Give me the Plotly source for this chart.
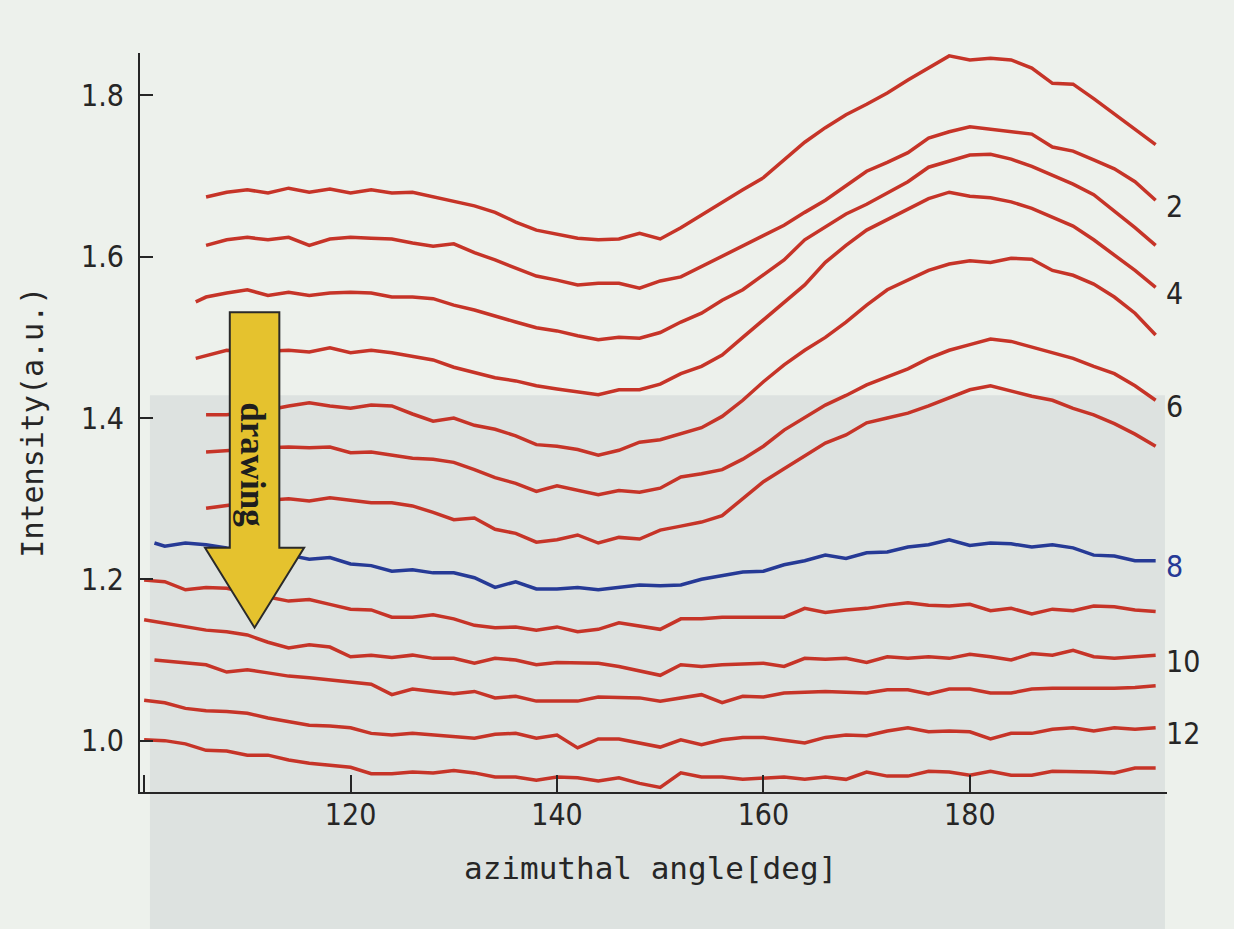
import plotly.graph_objects as go

# ---------------- data ----------------
angles = list(range(100, 199, 2))          # azimuthal angle grid [deg]
curve_start = [106, 106, 105, 105, 106, 106, 106, 101, 100, 100, 101, 100, 100]

c1 = [1.674, 1.680, 1.683, 1.679, 1.685, 1.680, 1.684, 1.679, 1.683, 1.679,
      1.680, 1.674, 1.668, 1.663, 1.655, 1.643, 1.633, 1.628, 1.623, 1.621,
      1.622, 1.629, 1.622, 1.636, 1.652, 1.667, 1.683, 1.698, 1.720, 1.742,
      1.760, 1.776, 1.789, 1.803, 1.819, 1.834, 1.849, 1.844, 1.846, 1.844,
      1.834, 1.815, 1.814, 1.796, 1.777, 1.758, 1.739]
c2 = [1.614, 1.621, 1.624, 1.621, 1.624, 1.614, 1.622, 1.624, 1.623, 1.622,
      1.617, 1.613, 1.616, 1.605, 1.596, 1.586, 1.576, 1.571, 1.565, 1.567,
      1.567, 1.561, 1.570, 1.575, 1.588, 1.601, 1.613, 1.626, 1.639, 1.655,
      1.670, 1.688, 1.706, 1.717, 1.729, 1.747, 1.755, 1.761, 1.758, 1.756,
      1.752, 1.736, 1.731, 1.720, 1.709, 1.693, 1.670]
c3 = [1.544, 1.550, 1.555, 1.559, 1.552, 1.556, 1.552, 1.555, 1.556, 1.555,
      1.550, 1.550, 1.548, 1.540, 1.534, 1.526, 1.519, 1.512, 1.508, 1.502,
      1.497, 1.500, 1.499, 1.506, 1.519, 1.530, 1.546, 1.559, 1.577, 1.596,
      1.621, 1.637, 1.653, 1.665, 1.679, 1.693, 1.711, 1.719, 1.726, 1.727,
      1.721, 1.712, 1.701, 1.690, 1.677, 1.657, 1.636, 1.614]
c4 = [1.474, 1.477, 1.484, 1.482, 1.483, 1.484, 1.482, 1.487, 1.481, 1.484,
      1.481, 1.477, 1.472, 1.463, 1.456, 1.450, 1.446, 1.440, 1.436, 1.432,
      1.429, 1.435, 1.435, 1.442, 1.455, 1.464, 1.478, 1.500, 1.522, 1.543,
      1.565, 1.593, 1.614, 1.633, 1.646, 1.660, 1.672, 1.680, 1.675, 1.673,
      1.668, 1.660, 1.649, 1.638, 1.621, 1.602, 1.583, 1.562]
c5 = [1.404, 1.404, 1.407, 1.410, 1.415, 1.419, 1.415, 1.412, 1.416, 1.415,
      1.405, 1.396, 1.400, 1.391, 1.386, 1.378, 1.367, 1.365, 1.361, 1.354,
      1.360, 1.370, 1.373, 1.380, 1.388, 1.402, 1.422, 1.445, 1.466, 1.484,
      1.500, 1.519, 1.540, 1.559, 1.571, 1.583, 1.591, 1.595, 1.593, 1.598,
      1.597, 1.583, 1.577, 1.566, 1.550, 1.530, 1.503]
c6 = [1.358, 1.360, 1.362, 1.363, 1.364, 1.363, 1.364, 1.357, 1.358, 1.354,
      1.350, 1.349, 1.345, 1.336, 1.326, 1.319, 1.309, 1.316, 1.311, 1.305,
      1.310, 1.308, 1.313, 1.327, 1.331, 1.336, 1.349, 1.365, 1.385, 1.401,
      1.416, 1.428, 1.441, 1.451, 1.461, 1.474, 1.484, 1.491, 1.498, 1.495,
      1.488, 1.482, 1.474, 1.464, 1.455, 1.440, 1.422]
c7 = [1.288, 1.292, 1.295, 1.298, 1.300, 1.297, 1.301, 1.298, 1.295, 1.295,
      1.291, 1.283, 1.274, 1.276, 1.262, 1.257, 1.246, 1.249, 1.255, 1.245,
      1.252, 1.250, 1.261, 1.266, 1.271, 1.279, 1.300, 1.321, 1.337, 1.353,
      1.369, 1.379, 1.394, 1.400, 1.406, 1.415, 1.425, 1.435, 1.440, 1.433,
      1.427, 1.422, 1.412, 1.404, 1.393, 1.380, 1.365]
c8 = [1.245,
      1.241, 1.245, 1.243, 1.239, 1.236, 1.234, 1.230, 1.225, 1.227, 1.219,
      1.217, 1.210, 1.212, 1.208, 1.208, 1.202, 1.190, 1.197, 1.188, 1.188,
      1.190, 1.187, 1.190, 1.193, 1.192, 1.193, 1.200, 1.205, 1.209, 1.210,
      1.218, 1.223, 1.230, 1.226, 1.233, 1.234, 1.240, 1.243, 1.249, 1.242,
      1.245, 1.244, 1.240, 1.243, 1.239, 1.230, 1.229, 1.223, 1.223]
c9 = [1.199, 1.197, 1.187, 1.190, 1.189, 1.183, 1.178, 1.173, 1.175, 1.169,
      1.163, 1.162, 1.153, 1.153, 1.156, 1.151, 1.143, 1.140, 1.141, 1.137,
      1.141, 1.135, 1.138, 1.146, 1.142, 1.138, 1.151, 1.151, 1.153, 1.153,
      1.153, 1.153, 1.164, 1.159, 1.162, 1.164, 1.168, 1.171, 1.168, 1.167,
      1.169, 1.161, 1.164, 1.157, 1.163, 1.161, 1.167, 1.166, 1.162, 1.160]
c10 = [1.150, 1.146, 1.141, 1.137, 1.135, 1.131, 1.122, 1.115, 1.119, 1.116,
       1.104, 1.106, 1.103, 1.106, 1.102, 1.102, 1.096, 1.102, 1.100, 1.094,
       1.097, 1.096, 1.096, 1.092, 1.087, 1.081, 1.094, 1.092, 1.094, 1.095,
       1.096, 1.092, 1.102, 1.101, 1.102, 1.097, 1.104, 1.102, 1.104, 1.102,
       1.107, 1.104, 1.100, 1.108, 1.106, 1.112, 1.104, 1.102, 1.104, 1.106]
c11 = [1.100,
       1.099, 1.097, 1.094, 1.085, 1.088, 1.084, 1.080, 1.078, 1.075, 1.073,
       1.070, 1.057, 1.064, 1.061, 1.058, 1.061, 1.053, 1.055, 1.049, 1.049,
       1.049, 1.054, 1.054, 1.053, 1.049, 1.053, 1.057, 1.047, 1.055, 1.054,
       1.059, 1.060, 1.061, 1.060, 1.059, 1.063, 1.063, 1.058, 1.064, 1.064,
       1.059, 1.059, 1.064, 1.065, 1.065, 1.064, 1.065, 1.066, 1.068]
c12 = [1.050, 1.047, 1.040, 1.037, 1.036, 1.034, 1.028, 1.023, 1.019, 1.018,
       1.016, 1.009, 1.007, 1.009, 1.007, 1.004, 1.003, 1.008, 1.009, 1.003,
       1.007, 0.991, 1.002, 1.002, 0.997, 0.992, 1.001, 0.995, 1.001, 1.004,
       1.004, 1.001, 0.997, 1.004, 1.007, 1.006, 1.012, 1.016, 1.011, 1.012,
       1.011, 1.002, 1.009, 1.009, 1.014, 1.016, 1.012, 1.016, 1.014, 1.016]
c13 = [1.001, 1.000, 0.996, 0.988, 0.987, 0.982, 0.982, 0.976, 0.972, 0.969,
       0.967, 0.959, 0.959, 0.961, 0.960, 0.963, 0.960, 0.955, 0.955, 0.951,
       0.955, 0.954, 0.950, 0.954, 0.947, 0.942, 0.960, 0.955, 0.955, 0.952,
       0.954, 0.955, 0.952, 0.955, 0.952, 0.961, 0.956, 0.956, 0.962, 0.961,
       0.957, 0.962, 0.957, 0.957, 0.962, 0.962, 0.961, 0.960, 0.966, 0.966]

curves = [c1, c2, c3, c4, c5, c6, c7, c8, c9, c10, c11, c12, c13]
curve_labels = ["", "2", "", "4", "", "6", "", "8", "", "10", "", "12", ""]

x_tickvals = [100, 120, 140, 160, 180]
x_ticktext = ["", "120", "140", "160", "180"]
y_tickvals = [1.0, 1.2, 1.4, 1.6, 1.8]
y_ticktext = ["1.0", "1.2", "1.4", "1.6", "1.8"]

# ---------------- style ----------------
RED = "rgb(198,52,40)"
BLUE = "rgb(38,58,150)"
INK = "#262626"
PAPER = "#EDF1EC"
BOX = "#DDE2E0"
MONO = "DejaVu Sans Mono"
NARROW = "Liberation Sans Narrow, Arial Narrow, DejaVu Sans Condensed, DejaVu Sans Mono"

fig = go.Figure()
for i, vals in enumerate(curves):
    s = curve_start[i]
    xs = ([s] if s not in angles else []) + [a for a in angles if a >= s]
    assert len(xs) == len(vals), (i, len(xs), len(vals))
    color = BLUE if curve_labels[i] == "8" else RED
    fig.add_trace(go.Scatter(x=xs, y=vals, mode="lines",
                             line=dict(color=color, width=3.5),
                             showlegend=False, hoverinfo="skip"))
    if curve_labels[i]:
        fig.add_annotation(x=xs[-1], y=vals[-1], xref="x", yref="y",
                           text=curve_labels[i], showarrow=False,
                           xanchor="left", yanchor="middle", xshift=8, yshift=-6,
                           font=dict(family=NARROW, size=30, color=color if color == BLUE else INK))

# "drawing" arrow
arrow_cx = 110.7
shaft_half = 2.4
head_half = 4.8
arrow_top = 1.531
head_base = 1.239
arrow_tip = 1.140
path = (f"M {arrow_cx-shaft_half},{arrow_top} L {arrow_cx+shaft_half},{arrow_top} "
        f"L {arrow_cx+shaft_half},{head_base} L {arrow_cx+head_half},{head_base} "
        f"L {arrow_cx},{arrow_tip} L {arrow_cx-head_half},{head_base} "
        f"L {arrow_cx-shaft_half},{head_base} Z")
fig.add_shape(type="path", path=path, xref="x", yref="y",
              fillcolor="#E5C22E", line=dict(color="#2a2a2a", width=2), layer="above")
fig.add_annotation(x=arrow_cx - 0.2, y=1.342, xref="x", yref="y", text="<b>drawing</b>",
                   textangle=90, showarrow=False, xanchor="center", yanchor="middle",
                   font=dict(family="Liberation Serif, DejaVu Serif", size=35, color="#1e1e1e"))

# scanned-page grey panel behind the lower plot
fig.add_shape(type="rect", xref="paper", yref="paper", x0=0.0097, x1=0.998, y0=-0.2, y1=0.537,
              fillcolor=BOX, line=dict(width=0), layer="below")

# axis titles
fig.add_annotation(x=-0.105, y=0.50, xref="paper", yref="paper", text="Intensity(a.u.)",
                   textangle=-90, showarrow=False, xanchor="center", yanchor="middle",
                   font=dict(family=MONO, size=30, color=INK))
fig.add_annotation(x=0.497, y=-0.103, xref="paper", yref="paper", text="azimuthal angle[deg]",
                   showarrow=False, xanchor="center", yanchor="middle",
                   font=dict(family=MONO, size=31, color=INK))

fig.update_xaxes(range=[99.6, 199.1], tickvals=x_tickvals, ticktext=x_ticktext,
                 ticks="inside", ticklen=17, tickwidth=2, tickcolor=INK,
                 showline=True, linecolor=INK, linewidth=2, showgrid=False, zeroline=False,
                 tickfont=dict(family=NARROW, size=30, color=INK), ticklabelstandoff=-5)
fig.update_yaxes(range=[0.9363, 1.8526], tickvals=y_tickvals, ticktext=y_ticktext,
                 ticks="inside", ticklen=13, tickwidth=2, tickcolor=INK,
                 showline=True, linecolor=INK, linewidth=2, showgrid=False, zeroline=False,
                 tickfont=dict(family=NARROW, size=30, color=INK), ticklabelstandoff=8)

fig.update_layout(width=1234, height=929, autosize=False,
                  margin=dict(l=140, r=67, t=53, b=137),
                  paper_bgcolor=PAPER, plot_bgcolor="rgba(0,0,0,0)")

fig.write_html("out.html")
